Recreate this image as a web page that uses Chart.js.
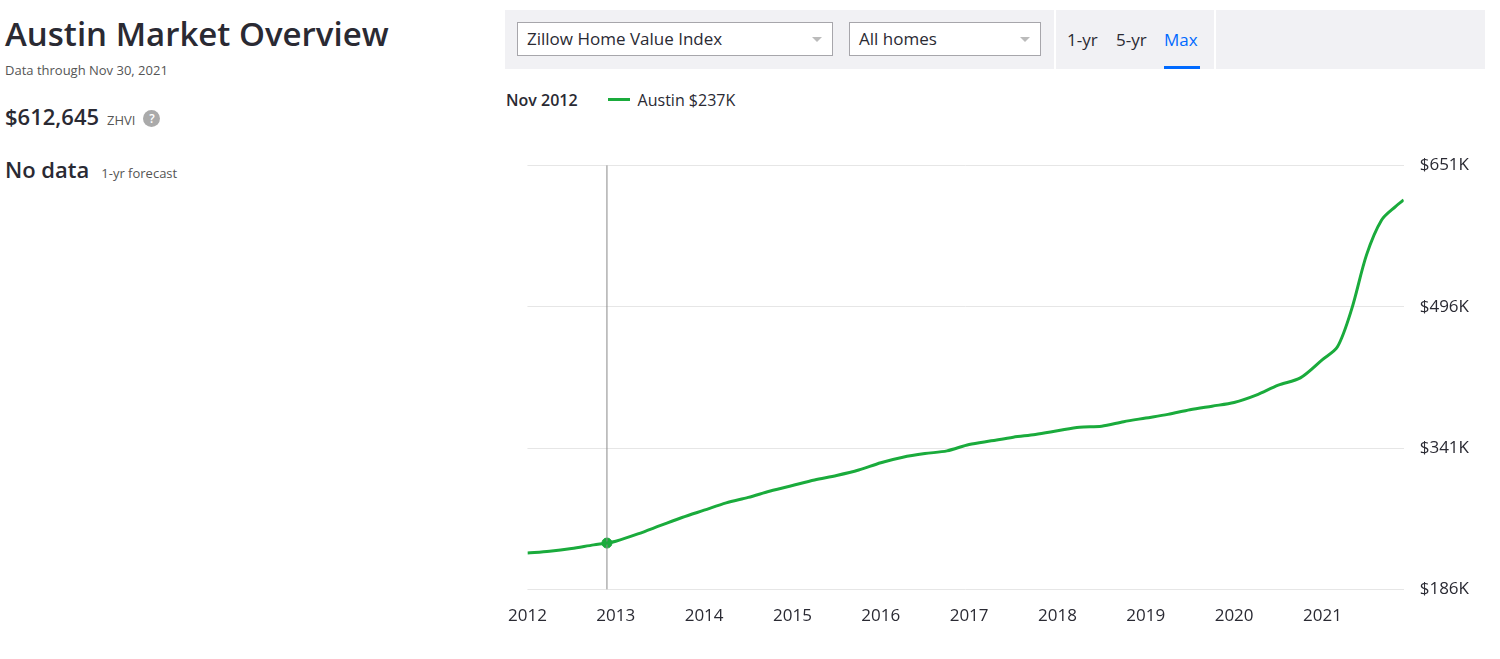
<!DOCTYPE html>
<html lang="en">
<head>
<meta charset="UTF-8">
<title>Austin Market Overview</title>
<script src="https://cdn.jsdelivr.net/npm/chart.js@4.4.0/dist/chart.umd.min.js"></script>
<style>
    body { margin: 0; width: 1500px; height: 659px; position: relative; font-family: 'Open Sans', sans-serif; color: #2a2a33; background: #fff; overflow: hidden; }
    .abs { position: absolute; white-space: nowrap; }
    #title { left: 5px; top: 11px; font-size: 33px; font-weight: 600; }
    #through { left: 5px; top: 61px; font-size: 13px; color: #555; }
    #price { left: 5px; top: 101px; font-size: 22px; font-weight: 600; }
    #price small { font-size: 13px; font-weight: 400; color: #555; margin-left: 8px; }
    #help { display: inline-block; width: 17px; height: 17px; border-radius: 50%; background: #aaa; color: #fff; font-size: 12px; text-align: center; line-height: 17px; margin-left: 8px; vertical-align: 2px; }
    #nodata { left: 5px; top: 154px; font-size: 22px; font-weight: 600; }
    #nodata small { font-size: 13px; font-weight: 400; color: #555; margin-left: 12px; }
    #bar { left: 505px; top: 10px; width: 980px; height: 59px; background: #f1f1f4; }
    .sel { position: absolute; top: 12px; height: 34px; background: #fff; border: 1px solid #a7a6ab; box-sizing: border-box; font-size: 17px; line-height: 32px; padding-left: 9px; }
    .sel::after { content: ''; position: absolute; right: 10px; top: 14px; border: 5px solid transparent; border-top-color: #bbb; }
    #tabs { position: absolute; left: 549px; top: 0; width: 158px; height: 59px; border-left: 2px solid #fff; border-right: 2px solid #fff; }
    .tab { position: absolute; top: 18px; font-size: 17px; }
    #legend { left: 506px; top: 89px; font-size: 16px; }
    #legend b { font-weight: 600; margin-right: 30px; }
    #legend span.ln { display: inline-block; width: 22px; height: 3px; background: #1aab3c; vertical-align: 5px; margin-right: 8px; }
    #wrap { left: 500px; top: 139px; width: 985px; height: 505px; }
</style>
</head>
<body>
<div id="title" class="abs">Austin Market Overview</div>
<div id="through" class="abs">Data through Nov 30, 2021</div>
<div id="price" class="abs">$612,645<small>ZHVI</small><span id="help">?</span></div>
<div id="nodata" class="abs">No data<small>1-yr forecast</small></div>
<div id="bar" class="abs">
    <div class="sel" style="left:12px;width:316px;">Zillow Home Value Index</div>
    <div class="sel" style="left:344px;width:192px;">All homes</div>
    <div id="tabs">
        <span class="tab" style="left:11px;">1-yr</span>
        <span class="tab" style="left:60px;">5-yr</span>
        <span class="tab" style="left:108px;color:#006aff;">Max</span>
        <div style="position:absolute;left:108px;top:56px;width:36px;height:3px;background:#006aff;"></div>
    </div>
</div>
<div id="legend" class="abs"><b>Nov 2012</b><span class="ln"></span>Austin $237K</div>
<div id="wrap" class="abs"><canvas id="chart"></canvas></div>

<script>
    // year fraction -> ZHVI in $K
    const years = [2012.0, 2012.25, 2012.5, 2012.75, 2012.9, 2013.0, 2013.25, 2013.5, 2013.75, 2014.0, 2014.25, 2014.5, 2014.75,
        2015.0, 2015.25, 2015.5, 2015.75, 2016.0, 2016.25, 2016.5, 2016.75, 2017.0, 2017.25, 2017.5, 2017.75,
        2018.0, 2018.25, 2018.5, 2018.75, 2019.0, 2019.25, 2019.5, 2019.75, 2020.0, 2020.25, 2020.5, 2020.75,
        2021.0, 2021.17, 2021.33, 2021.5, 2021.67, 2021.83, 2021.92];
    const values = [226, 228, 231, 235, 237, 239, 247, 256, 265, 273, 281, 287, 294,
        300, 306, 311, 317, 325, 331, 335, 338, 345, 349, 353, 356,
        360, 364, 365, 370, 374, 378, 383, 387, 391, 399, 410, 418,
        438, 452, 493, 553, 591, 606, 613];
    const markerYear = 2012.9;
    const markerValue = 237;
    const yTicks = [186, 341, 496, 651];
    const xTicks = [2012, 2013, 2014, 2015, 2016, 2017, 2018, 2019, 2020, 2021];

    const green = '#1aab3c';

    new Chart(document.getElementById('chart'), {
        type: 'line',
        data: {
            datasets: [{
                data: years.map((x, i) => ({ x, y: values[i] })),
                borderColor: green,
                borderWidth: 3,
                pointRadius: 0,
                tension: 0.3
            }, {
                data: [{ x: markerYear, y: yTicks[0] }, { x: markerYear, y: yTicks[yTicks.length - 1] }],
                borderColor: '#888',
                borderWidth: 1,
                pointRadius: 0
            }, {
                data: [{ x: markerYear, y: markerValue }],
                pointRadius: 5,
                pointBackgroundColor: green,
                pointBorderColor: green,
                showLine: false
            }]
        },
        options: {
            responsive: true,
            maintainAspectRatio: false,
            animation: false,
            layout: { padding: { left: 8, top: 25, right: 0, bottom: 10 } },
            plugins: { legend: { display: false }, tooltip: { enabled: false } },
            scales: {
                x: {
                    type: 'linear',
                    min: 2012,
                    max: 2021.92,
                    afterBuildTicks: axis => { axis.ticks = xTicks.map(v => ({ value: v })); },
                    ticks: { callback: v => String(v), font: { family: 'Open Sans', size: 17 }, color: '#2a2a33', padding: 8, maxRotation: 0 },
                    grid: { display: false },
                    border: { display: false }
                },
                y: {
                    position: 'right',
                    min: 186,
                    max: 651,
                    afterBuildTicks: axis => { axis.ticks = yTicks.map(v => ({ value: v })); },
                    ticks: { callback: v => '$' + v + 'K', font: { family: 'Open Sans', size: 17 }, color: '#2a2a33', padding: 16 },
                    grid: { color: '#e6e6e6', drawTicks: false },
                    border: { display: false }
                }
            }
        }
    });
</script>
</body>
</html>
